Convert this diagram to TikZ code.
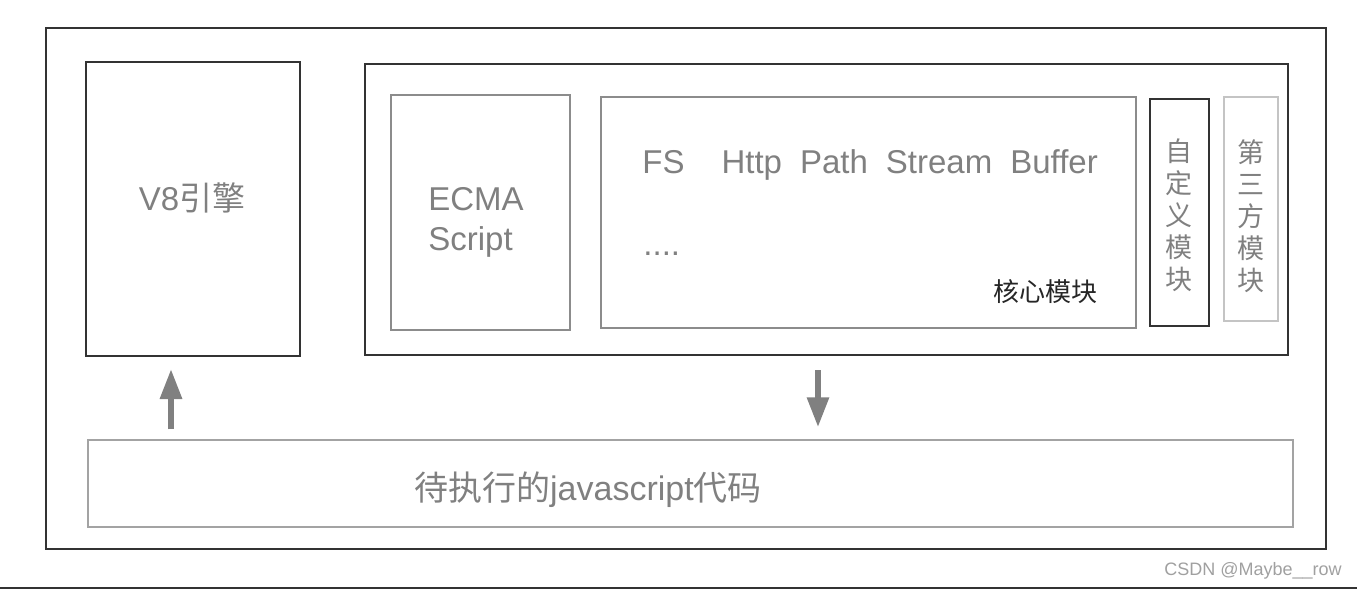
\documentclass[tikz,border=0pt]{standalone}
\usepackage{fontspec}
\setmainfont{Liberation Sans}
\newfontfamily\cjk{Noto Sans CJK SC}
\usetikzlibrary{arrows.meta, positioning}
\definecolor{oscuro}{HTML}{333333}
\definecolor{gris}{HTML}{808080}
\definecolor{griscaja}{HTML}{8C8C8C}
\definecolor{grisclaro}{HTML}{C4C4C4}

\begin{document}
\begin{tikzpicture}[x=0.5pt, y=-0.5pt,
      caja/.style={draw=#1, line width=1pt, inner sep=0pt},
      txt/.style={text=gris, inner sep=0pt, font=\fontsize{16.5pt}{19pt}\selectfont},
      vert/.style={text=gris, inner sep=0pt, align=center, font=\cjk\fontsize{13.5pt}{16pt}\selectfont},
      flecha/.style={draw=gris, line width=3pt, -{Triangle[length=15pt, width=10.5pt]}}]
    \useasboundingbox (0,0) rectangle (1357,590);
    % cajas
    \node[caja=oscuro, minimum width=640pt, minimum height=260.5pt] (marco) at (686,288.5) {};
    \node[caja=oscuro, minimum width=107pt, minimum height=147pt] (v8) at (193,209) {};
    \node[caja=oscuro, minimum width=461.5pt, minimum height=145.5pt] (node) at (826.5,209.5) {};
    \node[caja=griscaja, line width=0.75pt, minimum width=89.5pt, minimum height=117.5pt] (ecma) at (480.5,212.5) {};
    \node[caja=griscaja, line width=0.75pt, minimum width=267.5pt, minimum height=115.5pt] (nucleo) at (868.5,212.5) {};
    \node[caja=oscuro, minimum width=29.5pt, minimum height=113.5pt] (propio) at (1179.5,212.5) {};
    \node[caja=grisclaro, line width=0.75pt, minimum width=27pt, minimum height=112pt] (tercero) at (1251,209) {};
    \node[caja=griscaja!80, line width=0.75pt, minimum width=602.5pt, minimum height=43.5pt] (js) at (690.5,483.5) {};
    % textos
    \node[txt] (v8t) at (192,198) {V8{\cjk 引擎}};
    \node[txt, anchor=west, align=left, font=\fontsize{16.5pt}{20pt}\selectfont] (ecmat) at (428,222) {ECMA\\Script};
    \node[txt, anchor=west] (mods) at (642,165) {FS\hspace{18.5pt}Http\hspace{9pt}Path\hspace{9pt}Stream\hspace{9pt}Buffer};
    \node[txt, anchor=west] (puntos) at (643,254) {....};
    \node[anchor=east, inner sep=0pt, text=black!85, font=\cjk\fontsize{13pt}{15pt}\selectfont] (nucleot) at (1098,292) {核心模块};
    \node[vert] (propiot) at (1179,215) {自\\定\\义\\模\\块};
    \node[vert] (tercerot) at (1251,216) {第\\三\\方\\模\\块};
    \node[txt, font=\fontsize{17pt}{20pt}\selectfont] (jst) at (588,490) {{\cjk 待执行的}javascript{\cjk 代码}};
    \node[anchor=east, inner sep=0pt, text=gris!75, font=\fontsize{9pt}{10pt}\selectfont] (firma) at (1342,571) {CSDN @Maybe\_\_row};
    % flechas
    \coordinate (sube) at ([xshift=-11pt]v8.south);
    \coordinate (baja) at ([xshift=-4.25pt]node.south);
    \draw[flecha, shorten <=5pt, shorten >=6pt] (sube |- js.north) -- (sube);
    \draw[flecha, shorten <=7pt, shorten >=6pt] (baja) -- (baja |- js.north);
    \draw[oscuro, line width=1pt] (0,588) -- (1357,588);
  \end{tikzpicture}
\end{document}
